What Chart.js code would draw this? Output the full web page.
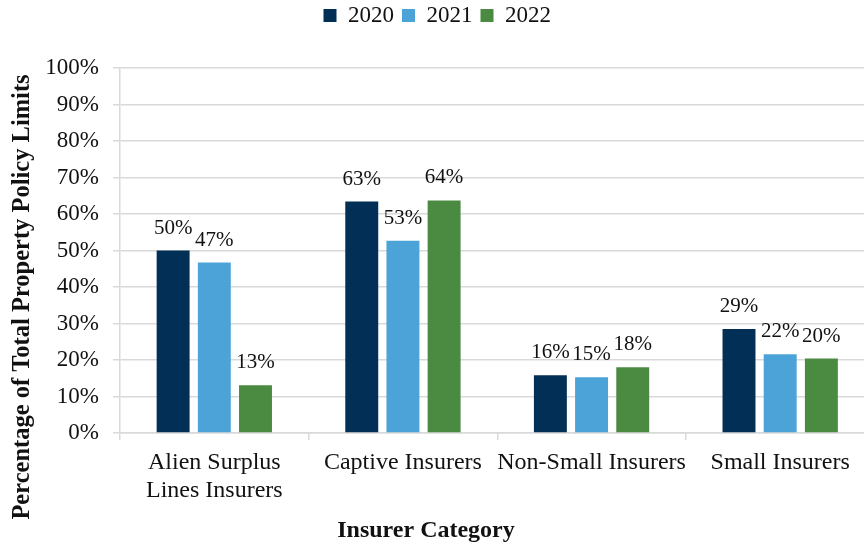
<!DOCTYPE html>
<html>
<head>
<meta charset="utf-8">
<script src="https://cdn.jsdelivr.net/npm/chart.js@4"></script>
<style>
  html, body { margin: 0; padding: 0; background: #fff; overflow: hidden; }
  #wrap { width: 880px; height: 546px; }
</style>
</head>
<body>
<div id="wrap"><canvas id="chartCanvas"></canvas></div>
<script>
    // Data
    const categories = [['Alien Surplus', 'Lines Insurers'], 'Captive Insurers', 'Non-Small Insurers', 'Small Insurers'];
    const years = ['2020', '2021', '2022'];
    const values2020 = [50.0, 63.4, 15.8, 28.5];
    const values2021 = [46.7, 52.7, 15.3, 21.6];
    const values2022 = [13.1, 63.7, 18.0, 20.4];
    const yTicks = [0, 10, 20, 30, 40, 50, 60, 70, 80, 90, 100];
    const colors = ['#022f56', '#4ba3d7', '#4a8b41'];

    const serif = '"Liberation Serif", "Times New Roman", serif';
    const gridColor = '#d9d9d9';

    // value labels above each bar + the two axis titles
    const extraText = {
      id: 'extraText',
      afterDatasetsDraw(chart) {
        const ctx = chart.ctx;
        ctx.save();
        ctx.fillStyle = '#111';
        ctx.font = '21px ' + serif;
        ctx.textAlign = 'center';
        ctx.textBaseline = 'alphabetic';
        chart.data.datasets.forEach((ds, i) => {
          const meta = chart.getDatasetMeta(i);
          meta.data.forEach((bar, j) => {
            ctx.fillText(Math.round(ds.data[j]) + '%', bar.x, bar.y - 17);
          });
        });

        ctx.font = 'bold 24px ' + serif;
        ctx.textBaseline = 'middle';
        ctx.fillText('Insurer Category', 426, 531);

        ctx.translate(23, 297);
        ctx.rotate(-Math.PI / 2);
        ctx.font = 'bold 24.5px ' + serif;
        ctx.fillText('Percentage of Total Property Policy Limits', 0, 0);
        ctx.restore();
      }
    };

    const ctx = document.getElementById('chartCanvas').getContext('2d');
    const chart = new Chart(ctx, {
      type: 'bar',
      data: {
        labels: categories,
        datasets: [
          { label: years[0], data: values2020, backgroundColor: colors[0] },
          { label: years[1], data: values2021, backgroundColor: colors[1] },
          { label: years[2], data: values2022, backgroundColor: colors[2] }
        ]
      },
      plugins: [extraText],
      options: {
        responsive: true,
        maintainAspectRatio: false,
        animation: false,
        layout: { padding: { left: 0, right: 5.5, top: -4, bottom: 0 } },
        datasets: {
          bar: { categoryPercentage: 0.655, barPercentage: 0.8 }
        },
        plugins: {
          legend: {
            position: 'top',
            labels: {
              font: { family: serif, size: 23 },
              color: '#111',
              boxWidth: 13,
              boxHeight: 13,
              padding: 8
            }
          },
          // empty spacer between legend and plot area
          subtitle: {
            display: true,
            text: '',
            weight: 500,
            font: { size: 1, lineHeight: 1 },
            padding: { top: 30, bottom: 0 }
          },
          tooltip: { enabled: false }
        },
        scales: {
          y: {
            min: 0,
            max: 100,
            afterBuildTicks(scale) {
              scale.ticks = yTicks.map(v => ({ value: v }));
            },
            afterFit(scale) { scale.width = 120; },
            ticks: {
              font: { family: serif, size: 23 },
              color: '#111',
              padding: 14,
              callback: v => v + '%'
            },
            grid: { color: gridColor, lineWidth: 1.5, tickLength: 7 },
            border: { color: gridColor, width: 1.5 }
          },
          x: {
            afterFit(scale) { scale.height = 113; },
            ticks: {
              font: { family: serif, size: 24, lineHeight: 1.15 },
              color: '#111',
              padding: 9,
              maxRotation: 0,
              autoSkip: false
            },
            grid: {
              display: true,
              drawOnChartArea: false,
              offset: true,
              color: gridColor,
              lineWidth: 1.5,
              tickLength: 7
            },
            border: { color: gridColor, width: 1.5 }
          }
        }
      }
    });
</script>
</body>
</html>
